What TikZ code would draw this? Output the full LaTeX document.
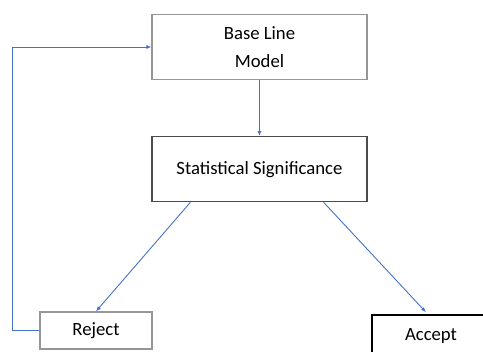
\documentclass[tikz,border=0pt]{standalone}
\usepackage{fontspec}
\setmainfont{Carlito}
\usetikzlibrary{positioning, arrows.meta}
\definecolor{linkblue}{RGB}{68,114,196}
\definecolor{boxgray}{RGB}{150,150,150}
\tikzset{
        ->,  % connectors are directed
        >={Latex[length=5pt,width=4pt]}, % small filled heads
        x=1pt, y=-1pt, % coordinates in points, y grows downwards
        box/.style={draw=boxgray, line width=1.2pt, fill=white, minimum width=215pt, minimum height=65pt, align=center, font=\fontsize{18.7}{28.5}\selectfont}, % the two wide boxes
        smallbox/.style={box, minimum width=112pt, minimum height=37pt}, % the two outcome boxes
        link/.style={draw=linkblue, line width=0.9pt}, % blue connectors
        }

\begin{document}
\begin{tikzpicture}
        \useasboundingbox (0,0) rectangle (483,352);
        % boxes
        \node[box] (base) at (259.5,47) {Base Line\\Model};
        \node[box, draw=black!70, below=56pt of base] (stat) {Statistical Significance};
        \node[smallbox] (reject) at (96,330.5) {Reject};
        % runs past the right and bottom edges
        \node[smallbox, draw=black, minimum width=118pt, minimum height=42pt] (accept) at (431,336) {Accept};

        % connectors
        \draw[link] (base) -- (base |- stat.north);
        \draw[link] ([xshift=39pt]stat.south west) -- (reject.north);
        \draw[link, shorten >=3pt] ([xshift=-44pt]stat.south east) -- ([xshift=-3pt]accept.north);
        \draw[link] (reject.west) -- ++(-27,0) |- (base.west);
    \end{tikzpicture}
\end{document}
